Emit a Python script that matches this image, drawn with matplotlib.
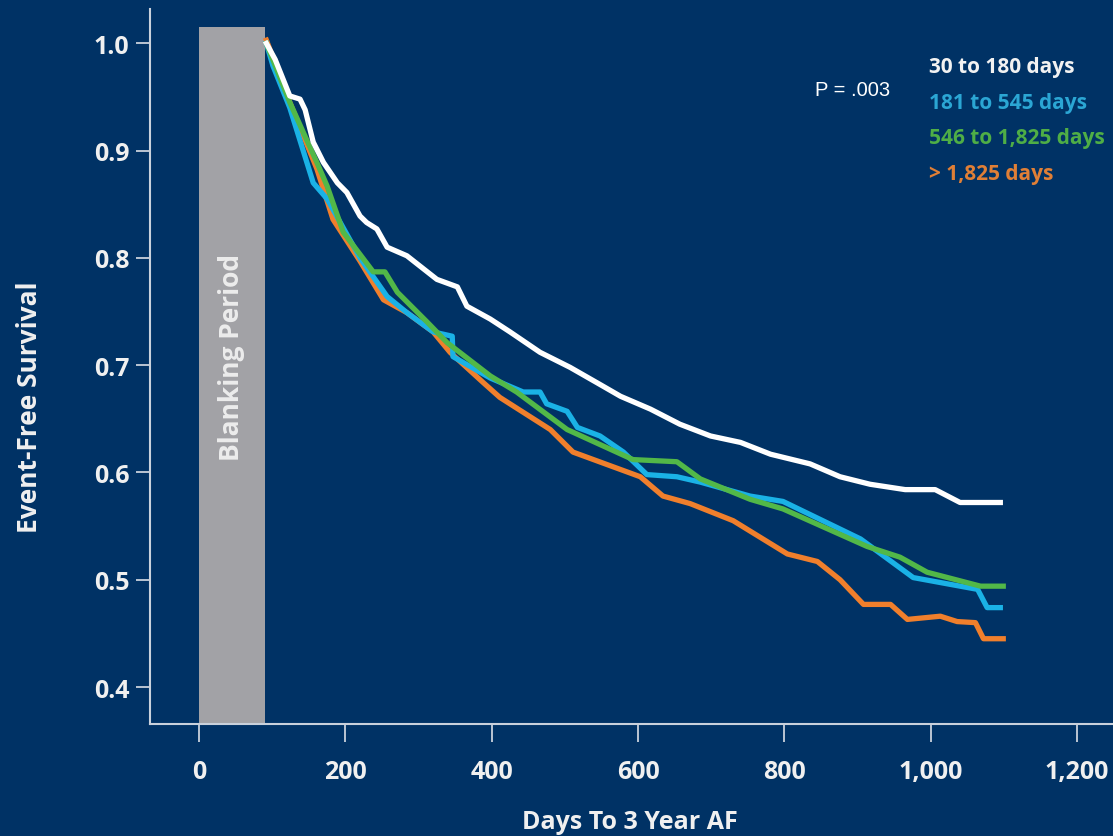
import matplotlib
matplotlib.use('Agg')
import matplotlib.pyplot as plt
from matplotlib.patches import Rectangle
from matplotlib.ticker import FuncFormatter

BG = '#003265'
AXIS_COL = '#c9d1dc'

# Kaplan-Meier style curves (days, event-free survival)
white_days = [92, 104, 124, 138, 145, 156, 170, 189, 202, 220, 229, 243, 257, 284, 325,
              353, 366, 398, 425, 466, 507, 548, 576, 617, 657, 699, 740, 781, 835, 876,
              917, 965, 1006, 1040, 1095]
white_surv = [1.0, 0.985, 0.951, 0.948, 0.938, 0.908, 0.889, 0.870, 0.861, 0.839, 0.833,
              0.827, 0.810, 0.802, 0.780, 0.773, 0.755, 0.743, 0.731, 0.712, 0.698, 0.682,
              0.671, 0.659, 0.645, 0.634, 0.628, 0.617, 0.608, 0.596, 0.589, 0.584, 0.584,
              0.572, 0.572]

cyan_days = [92, 101, 124, 156, 175, 220, 257, 284, 320, 346, 347, 398, 443, 466, 475,
             503, 517, 548, 580, 612, 653, 685, 753, 798, 904, 976, 1064, 1077, 1095]
cyan_surv = [1.0, 0.979, 0.940, 0.870, 0.855, 0.800, 0.764, 0.749, 0.731, 0.727, 0.708,
             0.688, 0.675, 0.675, 0.664, 0.657, 0.642, 0.634, 0.619, 0.598, 0.596, 0.591,
             0.578, 0.573, 0.538, 0.502, 0.491, 0.474, 0.474]

green_days = [92, 124, 161, 175, 197, 238, 254, 271, 312, 339, 398, 434, 503, 593, 653,
              685, 753, 798, 913, 958, 995, 1068, 1099]
green_surv = [1.0, 0.945, 0.889, 0.867, 0.824, 0.787, 0.787, 0.768, 0.740, 0.721, 0.690,
              0.675, 0.640, 0.612, 0.610, 0.594, 0.575, 0.566, 0.531, 0.521, 0.507, 0.494,
              0.494]

orange_days = [92, 124, 161, 183, 220, 252, 284, 320, 343, 388, 411, 480, 511, 563, 603,
               634, 671, 730, 804, 845, 876, 908, 945, 968, 1013, 1036, 1061, 1072, 1099]
orange_surv = [1.003, 0.945, 0.883, 0.836, 0.797, 0.761, 0.749, 0.731, 0.712, 0.684, 0.670,
               0.640, 0.619, 0.606, 0.596, 0.578, 0.571, 0.555, 0.524, 0.517, 0.500, 0.477,
               0.477, 0.463, 0.466, 0.461, 0.460, 0.445, 0.445]

group_labels = ['30 to 180 days', '181 to 545 days', '546 to 1,825 days', '> 1,825 days']
label_colors = ['#f2f2f2', '#2ba6d4', '#4fae46', '#e07f36']

x_ticks = [0, 200, 400, 600, 800, 1000, 1200]
y_ticks = [0.4, 0.5, 0.6, 0.7, 0.8, 0.9, 1.0]
blank_end = 90

plt.rcParams['font.family'] = ['Open Sans', 'DejaVu Sans']

fig = plt.figure(figsize=(11.13, 8.37), dpi=100, facecolor=BG)
ax = fig.add_axes([0.1348, 0.1338, 0.8652, 0.8542], facecolor=BG)

ax.set_xlim(-67, 1249)
ax.set_ylim(0.3655, 1.032)

# blanking period box
ax.add_patch(Rectangle((0, 0.3655), blank_end, 1.015 - 0.3655, facecolor='#a2a2a6',
                       edgecolor='none', zorder=1))
ax.text(blank_end / 2, 0.708, 'Blanking Period', rotation=90, ha='center', va='center',
        color='#ececec', fontsize=19, fontweight='bold', zorder=2)

lw = 3.8
ax.plot(orange_days, orange_surv, color='#f07f2c', lw=lw, solid_joinstyle='round', zorder=3)
ax.plot(cyan_days, cyan_surv, color='#1ab2e6', lw=lw, solid_joinstyle='round', zorder=4)
ax.plot(green_days, green_surv, color='#52b848', lw=lw, solid_joinstyle='round', zorder=5)
ax.plot(white_days, white_surv, color='#ffffff', lw=lw, solid_joinstyle='round', zorder=6)

for sp in ['top', 'right']:
    ax.spines[sp].set_visible(False)
for sp in ['left', 'bottom']:
    ax.spines[sp].set_color(AXIS_COL)
    ax.spines[sp].set_linewidth(1.5)

ax.set_xticks(x_ticks)
ax.set_yticks(y_ticks)
ax.xaxis.set_major_formatter(FuncFormatter(lambda v, p: f'{int(v):,}'))
ax.yaxis.set_major_formatter(FuncFormatter(lambda v, p: f'{v:.1f}'))
ax.tick_params(axis='y', colors=AXIS_COL, length=10, width=1.3, pad=5, labelsize=18,
               labelcolor='#f0f0f0')
ax.tick_params(axis='x', colors=AXIS_COL, length=13, width=1.3, pad=12, labelsize=18,
               labelcolor='#f0f0f0')
for lab in ax.get_xticklabels() + ax.get_yticklabels():
    lab.set_fontweight('bold')

ax.set_xlabel('Days To 3 Year AF', color='#f0f0f0', fontsize=18, fontweight='bold',
              va='center')
ax.set_ylabel('Event-Free Survival', color='#f0f0f0', fontsize=19, fontweight='bold',
              va='center')
ax.xaxis.set_label_coords(0.498, -0.136)
ax.yaxis.set_label_coords(-0.125, 0.445)

fig.text(0.732, 0.892, 'P = .003', color='white', fontsize=14.5,
         family='Liberation Sans', ha='left', va='center')

for i, (lab, col) in enumerate(zip(group_labels, label_colors)):
    fig.text(0.8347, 0.9188 - i * 0.0424, lab, color=col, fontsize=15,
             fontweight='bold', ha='left', va='center')

fig.savefig('out.png', dpi=100, facecolor=BG)
